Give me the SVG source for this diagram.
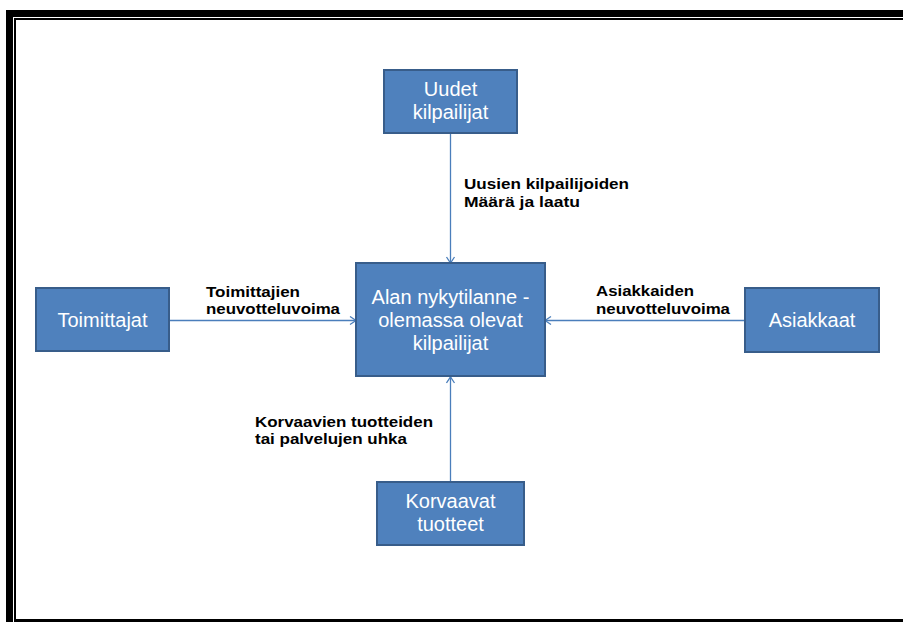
<svg xmlns="http://www.w3.org/2000/svg" width="903" height="622" viewBox="0 0 903 622">
<style>
.box{fill:#4f81bd;stroke:#385d8a;stroke-width:2}
.nt{font-family:"Liberation Sans",Arial,sans-serif;font-size:20px;fill:#ffffff;text-anchor:middle}
.lb{font-family:"Liberation Sans",Arial,sans-serif;font-size:15px;font-weight:bold;fill:#000000}
.con{stroke:#4a7ebb;stroke-width:1.3;fill:none}
.frame{fill:#000000}
</style>
<defs>
<marker id="arr" markerUnits="userSpaceOnUse" markerWidth="12" markerHeight="12" refX="8" refY="5" orient="auto">
<path d="M2,1 L8,5 L2,9" fill="none" stroke="#4a7ebb" stroke-width="1.3"/>
</marker>
</defs>
<rect width="903" height="622" fill="#ffffff"/>
<g id="frame">
<rect class="frame" x="6" y="10" width="897" height="7"/>
<rect class="frame" x="14" y="18" width="889" height="2"/>
<rect class="frame" x="6" y="10" width="7" height="612"/>
<rect class="frame" x="14" y="18" width="2" height="603"/>
<rect class="frame" x="14" y="619" width="889" height="3"/>
</g>
<g id="connectors">
<line class="con" x1="450.5" y1="133" x2="450.5" y2="263" marker-end="url(#arr)"/>
<line class="con" x1="169" y1="320.5" x2="356" y2="320.5" marker-end="url(#arr)"/>
<line class="con" x1="745" y1="320.5" x2="545" y2="320.5" marker-end="url(#arr)"/>
<line class="con" x1="450.5" y1="482" x2="450.5" y2="377" marker-end="url(#arr)"/>
<text class="lb" x="464" y="189" textLength="165" lengthAdjust="spacingAndGlyphs">Uusien kilpailijoiden</text>
<text class="lb" x="464" y="207" textLength="116" lengthAdjust="spacingAndGlyphs">Määrä ja laatu</text>
<text class="lb" x="206" y="297" textLength="94" lengthAdjust="spacingAndGlyphs">Toimittajien</text>
<text class="lb" x="206" y="314" textLength="134" lengthAdjust="spacingAndGlyphs">neuvotteluvoima</text>
<text class="lb" x="596" y="296" textLength="98" lengthAdjust="spacingAndGlyphs">Asiakkaiden</text>
<text class="lb" x="596" y="314" textLength="134" lengthAdjust="spacingAndGlyphs">neuvotteluvoima</text>
<text class="lb" x="255" y="427" textLength="178" lengthAdjust="spacingAndGlyphs">Korvaavien tuotteiden</text>
<text class="lb" x="255" y="444" textLength="152" lengthAdjust="spacingAndGlyphs">tai palvelujen uhka</text>
</g>
<g id="uudet">
<rect class="box" x="384" y="70" width="133" height="63"/>
<text class="nt" x="450.5" y="96">Uudet</text>
<text class="nt" x="450.5" y="119">kilpailijat</text>
</g>
<g id="center">
<rect class="box" x="356" y="263" width="189" height="113"/>
<text class="nt" x="450.5" y="304">Alan nykytilanne -</text>
<text class="nt" x="450.5" y="327">olemassa olevat</text>
<text class="nt" x="450.5" y="350">kilpailijat</text>
</g>
<g id="toimittajat">
<rect class="box" x="36" y="288" width="133" height="63"/>
<text class="nt" x="102.5" y="327">Toimittajat</text>
</g>
<g id="asiakkaat">
<rect class="box" x="745" y="288" width="134" height="64"/>
<text class="nt" x="812" y="327">Asiakkaat</text>
</g>
<g id="korvaavat">
<rect class="box" x="377" y="482" width="147" height="63"/>
<text class="nt" x="450.5" y="508">Korvaavat</text>
<text class="nt" x="450.5" y="531">tuotteet</text>
</g>
</svg>
